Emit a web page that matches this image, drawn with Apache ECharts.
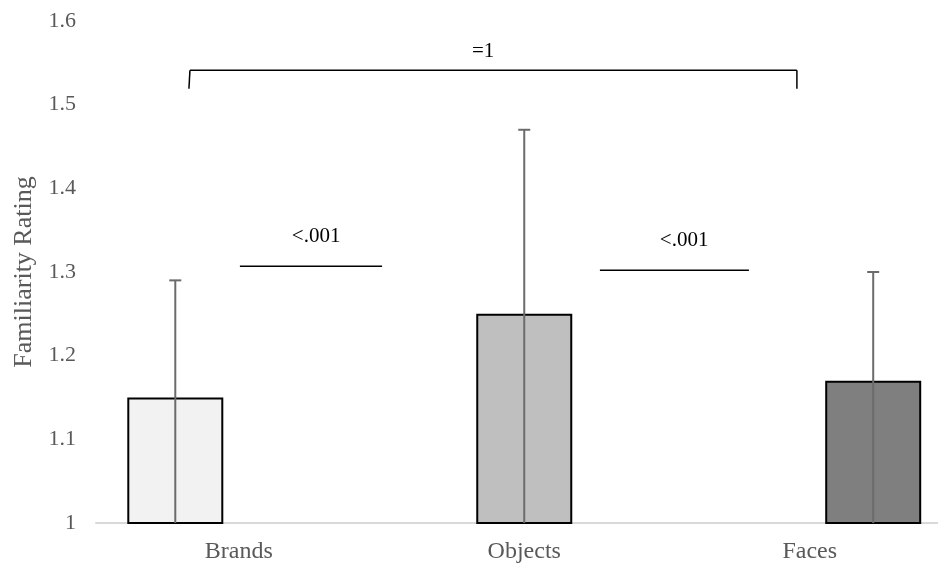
<!DOCTYPE html>
<html>
<head>
<meta charset="utf-8">
<title>Familiarity Rating</title>
<script src="https://cdn.jsdelivr.net/npm/echarts@6/dist/echarts.min.js"></script>
<style>
  html, body { margin: 0; padding: 0; background: #fff; }
  #chart { width: 938px; height: 565px; }
</style>
</head>
<body>
<div id="chart"></div>
<script>
// Stimulus categories and mean familiarity ratings
const categories = ['Brands', 'Objects', 'Faces'];
const means = [1.15, 1.25, 1.17];
const upperBounds = [1.29, 1.47, 1.30];   // top of each error bar
const yTicks = [1, 1.1, 1.2, 1.3, 1.4, 1.5, 1.6];

// Pairwise comparison annotations (x in category units, y in rating units)
const compLabels = ['=1', '<.001', '<.001'];
const compXStart = [0.329, 0.504, 1.765];
const compXEnd = [2.455, 1.002, 2.287];
const compLineY = [1.541, 1.307, 1.302];
const compDropY = [1.519, null, null];     // bracket legs (only the wide comparison)
const compTextX = [1.356, 0.771, 2.060];
const compTextY = [1.564, 1.343, 1.338];

const FONT = "'Liberation Serif', 'Times New Roman', serif";
const BAR_WIDTH = 96;
const BAR_GAP = -0.339;
const fills = ['#f2f2f2', '#bfbfbf', '#7f7f7f'];

const barSeries = categories.map((name, i) => ({
  name: name,
  type: 'bar',
  barWidth: BAR_WIDTH,
  barGap: (BAR_GAP * 100) + '%',
  data: categories.map((_, j) => (j === i ? means[i] : '-')),
  itemStyle: { color: fills[i], borderColor: '#000', borderWidth: 2 },
  z: 2
}));

const errorSeries = {
  type: 'custom',
  name: 'error',
  z: 3,
  data: categories.map((_, i) => [i, means[i], upperBounds[i]]),
  renderItem: function (params, api) {
    const idx = api.value(0);
    const offset = (idx - 1) * BAR_WIDTH * (1 + BAR_GAP);
    const base = api.coord([idx, yTicks[0]]);
    const top = api.coord([idx, api.value(2)]);
    const x = base[0] + offset;
    const style = { stroke: '#6b6b6b', lineWidth: 2 };
    return {
      type: 'group',
      children: [
        { type: 'line', shape: { x1: x, y1: base[1], x2: x, y2: top[1] }, style: style },
        { type: 'line', shape: { x1: x - 6, y1: top[1], x2: x + 6, y2: top[1] }, style: style }
      ]
    };
  }
};

const comparisonSeries = {
  type: 'custom',
  name: 'comparisons',
  xAxisIndex: 1,
  yAxisIndex: 0,
  z: 4,
  data: compLabels.map((_, i) => [compXStart[i], compXEnd[i], compLineY[i], compTextX[i], compTextY[i], i]),
  renderItem: function (params, api) {
    const i = api.value(5);
    const p1 = api.coord([api.value(0), api.value(2)]);
    const p2 = api.coord([api.value(1), api.value(2)]);
    const pt = api.coord([api.value(3), api.value(4)]);
    const style = { stroke: '#000', lineWidth: 1.5 };
    const children = [
      { type: 'line', shape: { x1: p1[0], y1: p1[1], x2: p2[0], y2: p2[1] }, style: style },
      { type: 'text', x: pt[0], y: pt[1],
        style: { text: compLabels[i], fill: '#000', font: '21px ' + FONT, textAlign: 'center', textVerticalAlign: 'middle' } }
    ];
    if (compDropY[i] !== null) {
      const d1 = api.coord([api.value(0), compDropY[i]]);
      const d2 = api.coord([api.value(1), compDropY[i]]);
      children.push({ type: 'line', shape: { x1: p1[0], y1: p1[1], x2: d1[0] - 1, y2: d1[1] }, style: style });
      children.push({ type: 'line', shape: { x1: p2[0], y1: p2[1], x2: d2[0], y2: d2[1] }, style: style });
    }
    return { type: 'group', children: children };
  }
};

const chart = echarts.init(document.getElementById('chart'), null, { renderer: 'canvas' });
chart.setOption({
  animation: false,
  backgroundColor: '#fff',
  grid: { left: 96, top: 21, width: 856.5, height: 502, containLabel: false, outerBoundsMode: 'none' },
  xAxis: [
    {
      type: 'category',
      data: categories,
      axisLine: { lineStyle: { color: '#d9d9d9', width: 2 } },
      axisTick: { show: false },
      axisLabel: { color: '#595959', fontFamily: FONT, fontSize: 24, margin: 17 }
    },
    { type: 'value', min: 0, max: 3, show: false }
  ],
  yAxis: {
    type: 'value',
    min: yTicks[0],
    max: yTicks[yTicks.length - 1],
    interval: 0.1,
    name: 'Familiarity Rating',
    nameLocation: 'middle',
    nameRotate: 90,
    nameGap: 58,
    nameTextStyle: { color: '#595959', fontFamily: FONT, fontSize: 26 },
    axisLine: { show: false },
    axisTick: { show: false },
    splitLine: { show: false },
    axisLabel: {
      color: '#595959', fontFamily: FONT, fontSize: 22, margin: 20,
      formatter: v => String(+v.toFixed(1))
    }
  },
  series: barSeries.concat([errorSeries, comparisonSeries])
});
</script>
</body>
</html>
